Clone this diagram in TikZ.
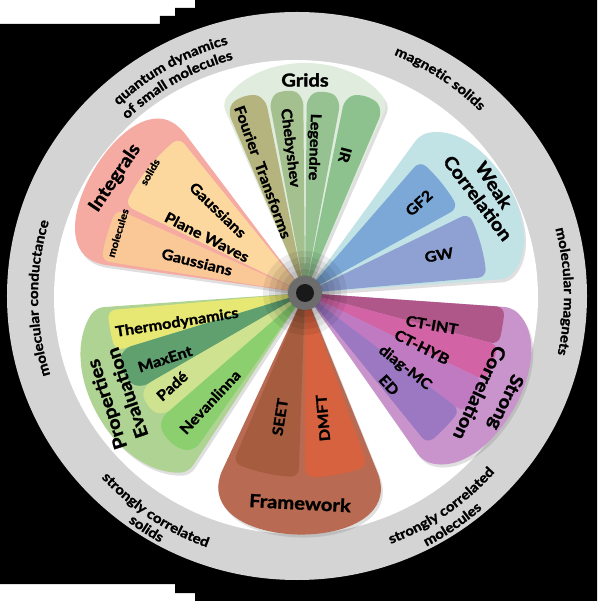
\documentclass[tikz,border=0pt]{standalone}
\usepackage{fontspec}
\setmainfont{Lato}[FakeStretch=1.12, BoldFeatures={FakeBold=1.5}]
\usetikzlibrary{decorations.text,shadows}
\definecolor{ringgray}{HTML}{D4D4D4}
\definecolor{gridspale}{HTML}{E0ECDD}
\definecolor{fouriergr}{HTML}{B5B37E}
\definecolor{chebygr}{HTML}{A5C08F}
\definecolor{legendregr}{HTML}{96C291}
\definecolor{irgr}{HTML}{8DC28F}
\definecolor{weakpale}{HTML}{C2E3E6}
\definecolor{gftwobl}{HTML}{7CA8D8}
\definecolor{gwbl}{HTML}{8FA1D3}
\definecolor{strongpale}{HTML}{C994CC}
\definecolor{ctintpk}{HTML}{B0578A}
\definecolor{cthybpk}{HTML}{D264A6}
\definecolor{diagmcpk}{HTML}{C07AC2}
\definecolor{edpk}{HTML}{9C77C2}
\definecolor{framebr}{HTML}{B96A52}
\definecolor{seetbr}{HTML}{A65C3E}
\definecolor{dmftbr}{HTML}{D6623F}
\definecolor{proppale}{HTML}{AFD392}
\definecolor{thermoye}{HTML}{E7E774}
\definecolor{maxentgr}{HTML}{60A06F}
\definecolor{padegr}{HTML}{CFE290}
\definecolor{nevangr}{HTML}{8BCF6F}
\definecolor{intpale}{HTML}{F5AAA2}
\definecolor{intsolids}{HTML}{FCD89F}
\definecolor{intmolec}{HTML}{FAC896}
\newcommand\ringfont{\bfseries\fontsize{13.5}{15}\selectfont}

\begin{document}
\begin{tikzpicture}[
x=1pt, y=1pt,
petal/.style={rounded corners=8pt},
fanshadow/.style={drop shadow={opacity=.25, shadow xshift=2pt, shadow yshift=-3pt}},
lbl/.style={font=\bfseries\fontsize{14.5}{16}\selectfont, inner sep=0pt},
headlbl/.style={font=\bfseries\fontsize{18}{20}\selectfont, inner sep=0pt},
sublbl/.style={font=\bfseries\fontsize{10}{12}\selectfont, inner sep=0pt},
ringtext/.style={decorate, decoration={text along path, text align=center, text={|\ringfont|#1}}}
]
\useasboundingbox (-305,-308) rectangle (292,293);
\fill[black] (-305,269) -- (-145,269) -- (-145,277) -- (-130,277) -- (-130,285) -- (-110,285)
  -- (-110,293) -- (292,293) -- (292,-308) -- (-110,-308) -- (-110,-300) -- (-130,-300)
  -- (-130,-291) -- (-305,-291) -- cycle;
\fill[ringgray] (-8,-3) ellipse[x radius=290, y radius=284];
\fill[white] (-9,-4) ellipse[x radius=242, y radius=237];

% ring labels
\path[ringtext={quantum dynamics}] (-8,-3) ++(149.2:261) arc[start angle=149.2, end angle=89.2, radius=261];
\path[ringtext={of small molecules}] (-8,-3) ++(149.5:245) arc[start angle=149.5, end angle=89.5, radius=245];
\path[ringtext={magnetic solids}] (-8,-3) ++(86.7:260) arc[start angle=86.7, end angle=26.7, radius=260];
\path[ringtext={molecular magnets}] (-8,-3) ++(31:267) arc[start angle=31, end angle=-29, radius=267];
\path[ringtext={strongly correlated}] (-8,-3) ++(-85.5:265) arc[start angle=-85.5, end angle=-25.5, radius=265];
\path[ringtext={molecules}] (-8,-3) ++(-85.8:282) arc[start angle=-85.8, end angle=-25.8, radius=282];
\path[ringtext={strongly correlated}] (-8,-3) ++(-153.4:267) arc[start angle=-153.4, end angle=-93.4, radius=267];
\path[ringtext={solids}] (-8,-3) ++(-152.9:282) arc[start angle=-152.9, end angle=-92.9, radius=282];
\path[ringtext={molecular conductance}] (-8,-3) ++(210.5:259) arc[start angle=210.5, end angle=150.5, radius=259];

% Grids
\fill[gridspale, petal, fanshadow] (0,0) -- (66.4:207) to[bend right=53] (113.6:207) -- cycle;
\fill[fouriergr, petal] (0,0) -- (101.5:198) to[bend right=40] (113:198) -- cycle;
\fill[chebygr, petal] (0,0) -- (90.5:196) to[bend right=40] (100.5:196) -- cycle;
\fill[legendregr, petal] (0,0) -- (79.5:195) to[bend right=40] (89.5:195) -- cycle;
\fill[irgr, petal] (0,0) -- (67:198) to[bend right=40] (78.5:198) -- cycle;

% Weak Correlation
\fill[weakpale, petal, fanshadow] (0,0) -- (4:204) to[bend right=70] (54:196) -- cycle;
\fill[gftwobl, petal] (0,0) -- (29:175) arc[start angle=29, end angle=49, radius=175] -- cycle;
\fill[gwbl, petal] (0,0) -- (5:182) arc[start angle=5, end angle=26, radius=182] -- cycle;

% Strong Correlation
\fill[strongpale, petal, fanshadow] (0,0) -- (-55:205) to[bend right=75] (-4:208) -- cycle;
\fill[ctintpk, petal] (0,0) -- (-15:200) arc[start angle=-15, end angle=-4, radius=200] -- cycle;
\fill[cthybpk, petal] (0,0) -- (-26:200) arc[start angle=-26, end angle=-15, radius=200] -- cycle;
\fill[diagmcpk, petal] (0,0) -- (-37:198) arc[start angle=-37, end angle=-26, radius=198] -- cycle;
\fill[edpk, petal] (0,0) -- (-51:194) arc[start angle=-51, end angle=-37, radius=194] -- cycle;

% Framework
\fill[framebr, petal, fanshadow] (0,0) -- (-115:205) to[bend right=90, looseness=1.1] (-68:203) -- cycle;
\fill[seetbr, petal] (0,0) -- (-113:184) arc[start angle=-113, end angle=-92, radius=184] -- cycle;
\fill[dmftbr, petal] (0,0) -- (-90:184) arc[start angle=-90, end angle=-70, radius=184] -- cycle;

% Properties Evaluation
\fill[proppale, petal, fanshadow] (0,0) -- (-176:210) to[bend right=62] (-123:214) -- cycle;
\fill[thermoye, petal] (0,0) -- (-175:198) arc[start angle=-175, end angle=-163, radius=198] -- cycle;
\fill[maxentgr, petal] (0,0) -- (-163:190) to[bend right=40] (-150:190) -- cycle;
\fill[padegr, petal] (0,0) -- (-150:186) to[bend right=40] (-139:186) -- cycle;
\fill[nevangr, petal] (0,0) -- (-139:192) to[bend right=40] (-125:192) -- cycle;

% Integrals
\fill[intpale, petal, fanshadow] (0,0) -- (127:208) to[bend right=90, looseness=1.05] (172:210) -- cycle;
\fill[intsolids, petal] (0,0) -- (129:200) arc[start angle=129, end angle=154, radius=200] -- cycle;
\fill[intmolec, petal] (0,0) -- (156:206) arc[start angle=156, end angle=171, radius=206] -- cycle;

\foreach \r in {42,36,...,18}
  \fill[black, opacity=.07] (0,0) circle[radius=\r];
\fill[gray!85!black] (0,0) circle[radius=17];
\fill[black!90] (0,0) circle[radius=9];

\node[headlbl] (grids) at (0,213) {Grids};
\node[lbl, rotate=-70] (fourier) at (-42,121) {Fourier\ \ Transforms};
\node[lbl, rotate=-83] (cheby) at (-15,145) {Chebyshev};
\node[lbl, rotate=-92] (legendre) at (9,146) {Legendre};
\node[lbl, rotate=-105] (ir) at (40,138) {IR};

\node[headlbl, rotate=-57] (weak) at (189,108) {Weak};
\node[headlbl, rotate=-53] (weakcorr) at (173,95) {Correlation};
\node[lbl, rotate=42] (gf2) at (114,90) {GF2};
\node[lbl, rotate=10] (gw) at (134,38) {GW};

\node[lbl, rotate=-10] (ctint) at (127,-32) {CT-INT};
\node[lbl, rotate=-27] (cthyb) at (117,-54) {CT-HYB};
\node[lbl, rotate=-38] (diagmc) at (100,-75) {diag-MC};
\node[lbl, rotate=-48] (ed) at (84,-92) {ED};
\node[headlbl, rotate=-115] (strong) at (200,-109) {Strong};
\node[headlbl, rotate=-115] (strongcorr) at (175,-100) {Correlation};

\node[lbl, rotate=81] (seet) at (-25,-124) {SEET};
\node[lbl, rotate=95] (dmft) at (18,-125) {DMFT};
\node[headlbl, rotate=-3] (framework) at (-5,-210) {Framework};

\node[lbl, rotate=9] (thermo) at (-128,-30) {Thermodynamics};
\node[lbl, rotate=18] (maxent) at (-140,-66) {MaxEnt};
\node[lbl, rotate=42] (pade) at (-133,-93) {Padé};
\node[lbl, rotate=47] (nevan) at (-95,-109) {Nevanlinna};
\node[headlbl, rotate=108] (props) at (-197,-111) {Properties};
\node[headlbl, rotate=109] (evalu) at (-178,-100) {Evaluation};

\node[headlbl, rotate=56] (integrals) at (-190,115) {Integrals};
\node[sublbl, rotate=60] (solids) at (-155,121) {solids};
\node[sublbl, rotate=73] (molec) at (-187,60) {molecules};
\node[lbl, rotate=-44] (gaussup) at (-87,83) {Gaussians};
\node[lbl, rotate=-27] (planew) at (-98,56) {Plane Waves};
\node[lbl, rotate=-14] (gausslow) at (-108,31) {Gaussians};
\end{tikzpicture}
\end{document}
